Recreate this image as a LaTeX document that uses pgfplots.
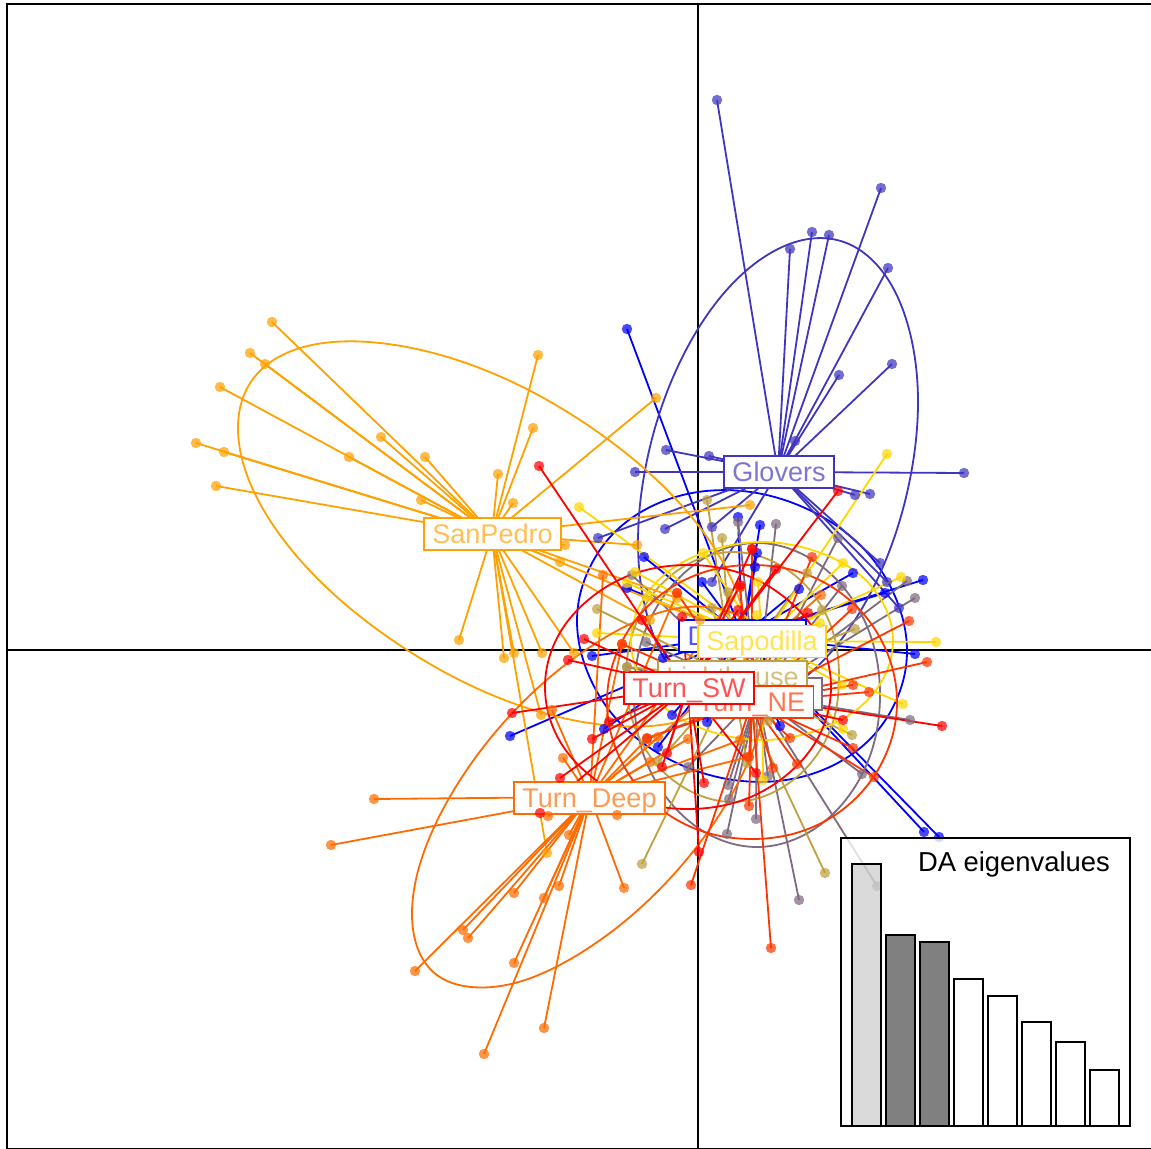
\documentclass[border=0pt]{standalone}
\usepackage{fontspec}
\setmainfont{Liberation Sans}
\usepackage{pgfplots}
\usepackage{pgfplotstable}
\pgfplotsset{compat=1.18}

% colours of the groups: blue -> gold -> red
\definecolor{cBl}{HTML}{0000FF}
\definecolor{cGl}{HTML}{3F35BF}
\definecolor{cGr}{HTML}{7F6B7F}
\definecolor{cLi}{HTML}{BFA13F}
\definecolor{cSa}{HTML}{FFD700}
\definecolor{cSP}{HTML}{FFA100}
\definecolor{cTD}{HTML}{FF6B00}
\definecolor{cNE}{HTML}{FF3500}
\definecolor{cSW}{HTML}{FF0000}

% individuals of each group, in pixels of the picture
\pgfplotstableread{
x y
627 329
510 736
924 832
939 837
923 580
915 654
885 593
853 573
799 589
738 517
760 525
757 553
755 567
644 557
627 588
702 582
592 656
604 729
658 747
672 715
707 722
780 726
663 658
}\tBl
\pgfplotstableread{
x y
717 100
881 188
812 232
829 235
790 249
888 268
892 364
839 375
795 441
709 456
666 450
635 472
964 473
855 495
870 494
712 527
665 529
598 538
880 563
887 582
899 608
712 582
}\tGl
\pgfplotstableread{
x y
776 524
738 522
838 538
907 581
915 598
842 586
632 575
646 642
910 720
862 774
799 900
877 886
768 776
756 819
727 834
729 799
728 785
688 767
647 739
627 667
}\tGr
\pgfplotstableread{
x y
642 864
825 873
707 500
722 538
855 629
852 735
597 609
627 667
658 762
747 763
768 721
807 573
728 592
712 608
822 610
}\tLi
\pgfplotstableread{
x y
887 454
579 507
843 563
901 577
936 642
903 704
843 729
842 685
635 572
627 583
597 633
757 615
820 623
703 553
763 780
647 597
758 582
}\tSa
\pgfplotstableread{
x y
272 322
250 353
265 364
220 387
196 443
224 452
216 486
381 437
425 457
349 457
421 500
498 474
513 503
533 428
538 355
656 398
459 640
504 658
514 653
542 653
574 653
565 545
560 562
637 545
750 505
541 715
547 853
677 598
700 620
650 620
}\tSP
\pgfplotstableread{
x y
374 799
331 845
415 971
463 930
468 938
514 893
544 898
559 886
514 963
544 1028
484 1054
624 888
569 835
617 815
548 816
563 758
552 710
647 739
603 575
622 644
677 593
821 595
740 587
688 739
650 762
658 737
748 757
740 740
}\tTD
\pgfplotstableread{
x y
771 948
691 885
927 662
909 621
852 609
812 557
853 685
869 692
853 748
874 777
797 764
790 738
773 768
749 806
749 757
752 549
740 587
677 593
622 644
647 738
}\tNE
\pgfplotstableread{
x y
539 466
942 726
512 713
699 852
838 491
776 569
592 739
560 778
540 813
609 722
662 767
667 753
704 783
756 773
843 720
642 620
584 639
568 660
682 617
738 610
808 613
740 585
752 549
}\tSW

\pgfplotsset{
  dots/.style={only marks, mark=*, mark size=2.6pt,
    mark options={draw=#1, fill=#1, draw opacity=0, fill opacity=0.72}},
  star/.style n args={3}{draw=#1, line width=0.9pt, quiver={u=#2-x, v=#3-y}},
  ell/.style={draw=#1, line width=0.9pt, /tikz/smooth cycle, /tikz/tension=0.62, no markers},
}
\tikzset{
  lab/.style={draw=#1, text=#1, text opacity=0.68, fill=white, line width=0.85pt,
    inner xsep=4.2pt, inner ysep=1.6pt, text height=11.1pt, text depth=1.7pt,
    font=\fontsize{13.5}{16}\selectfont},
}

\begin{document}
\begin{tikzpicture}
\path[use as bounding box] (0pt,0pt) rectangle (575.5pt,574.5pt);
\begin{axis}[
  name=main, at={(0pt,0pt)}, anchor=south west,
  scale only axis, width=575.5pt, height=574.5pt,
  xmin=0, xmax=1151, ymin=0, ymax=1149, y dir=reverse,
  hide axis,
]
% frame and zero lines
\addplot[black, line width=1pt] coordinates {(1151,4) (7,4) (7,1149) (1151,1149)};
\addplot[black, line width=0.9pt] coordinates {(7,650) (1151,650)};
\addplot[black, line width=0.9pt] coordinates {(698,4) (698,1149)};

% points
\addplot[dots=cBl] table {\tBl};
\addplot[dots=cGl] table {\tGl};
\addplot[dots=cGr] table {\tGr};
\addplot[dots=cLi] table {\tLi};
\addplot[dots=cSa] table {\tSa};
\addplot[dots=cSP] table {\tSP};
\addplot[dots=cTD] table {\tTD};
\addplot[dots=cNE] table {\tNE};
\addplot[dots=cSW] table {\tSW};

% stars and ellipses
\addplot[star={cBl}{742}{636}] table {\tBl};
\addplot[ell=cBl] coordinates {(907,651) (894,594) (859,544) (805,508) (742,491) (679,496) (625,523) (590,567) (577,621) (590,678) (625,728) (679,764) (742,781) (805,776) (859,749) (894,705)};

\addplot[star={cGl}{778}{472}] table {\tGl};
\addplot[ell=cGl] coordinates {(918,402) (907,322) (877,265) (832,239) (778,249) (724,293) (679,364) (649,451) (638,542) (649,622) (679,679) (724,705) (778,695) (832,651) (877,580) (907,493)};

\addplot[star={cGr}{757}{695}] table {\tGr};
\addplot[ell=cGr] coordinates {(880,695) (871,637) (844,588) (804,555) (757,543) (710,555) (670,588) (643,637) (634,695) (643,753) (670,802) (710,835) (757,847) (804,835) (844,802) (871,753)};

\addplot[star={cLi}{733}{677}] table {\tLi};
\addplot[ell=cLi] coordinates {(839,677) (832,629) (809,589) (774,562) (733,552) (692,562) (657,589) (634,629) (626,677) (634,725) (657,765) (692,792) (733,802) (774,792) (809,765) (832,725)};

\addplot[star={cSa}{762}{641}] table {\tSa};
\addplot[ell=cSa] coordinates {(893,641) (883,603) (855,571) (812,550) (762,542) (712,550) (669,571) (641,603) (631,641) (641,679) (669,711) (712,732) (762,740) (812,732) (855,711) (883,679)};

\addplot[star={cSP}{492}{534}] table {\tSP};
\addplot[ell=cSP] coordinates {(746,640) (727,570) (672,495) (589,426) (492,373) (395,345) (312,345) (257,374) (238,428) (257,498) (312,573) (395,642) (492,695) (589,723) (672,723) (727,694)};

\addplot[star={cTD}{590}{797}] table {\tTD};
\addplot[ell=cTD] coordinates {(768,679) (754,630) (716,608) (658,613) (590,647) (522,703) (464,774) (425,849) (412,915) (426,964) (464,986) (522,981) (590,947) (658,891) (716,820) (755,745)};

\addplot[star={cNE}{752}{702}] table {\tNE};
\addplot[ell=cNE] coordinates {(897,702) (886,650) (855,605) (808,575) (752,565) (696,575) (649,605) (618,650) (607,702) (618,754) (649,799) (696,829) (752,839) (808,829) (855,799) (886,754)};

\addplot[star={cSW}{688}{687}] table {\tSW};
\addplot[ell=cSW] coordinates {(831,687) (820,640) (789,601) (743,574) (688,565) (633,574) (587,601) (556,640) (545,687) (556,734) (587,773) (633,800) (688,809) (743,800) (789,773) (820,734)};

% labels
\node[lab=cBl] at (axis cs:742.5,636) {Dangriga};
\node[lab=cGl] at (axis cs:779,472) {Glovers};
\node[lab=cGr, minimum width=65pt] at (axis cs:757,694) {};
\node[lab=cLi] at (axis cs:732.5,677) {Lighthouse};
\node[lab=cSa] at (axis cs:762,641.5) {Sapodilla};
\node[lab=cSP] at (axis cs:492.5,534) {SanPedro};
\node[lab=cTD] at (axis cs:589.5,798) {Turn\_Deep};
\node[lab=cNE] at (axis cs:751.5,702) {Turn\_NE};
\node[lab=cSW] at (axis cs:689,688) {Turn\_SW};
\end{axis}

% eigenvalue inset
\begin{axis}[
  at={(420.5pt,11.5pt)}, anchor=south west,
  scale only axis, width=144.5pt, height=144pt,
  xmin=0.253, xmax=8.753, ymin=0, ymax=288,
  xtick=\empty, ytick=\empty,
  axis line style={black, line width=0.85pt},
  axis background/.style={fill=white, fill opacity=0.78},
  ybar, bar width=14.35pt, bar shift=0pt,
  every axis plot/.append style={draw=black, line width=0.85pt},
]
\addplot[fill=black, fill opacity=0.14] coordinates {(1,262)};
\addplot[fill=gray] coordinates {(2,191) (3,184)};
\addplot[fill=white] coordinates {(4,147) (5,130) (6,104) (7,84) (8,56)};
\node[font=\fontsize{13.7}{16}\selectfont, text=black] at (axis cs:5.34,262) {DA eigenvalues};
\end{axis}
\end{tikzpicture}
\end{document}
